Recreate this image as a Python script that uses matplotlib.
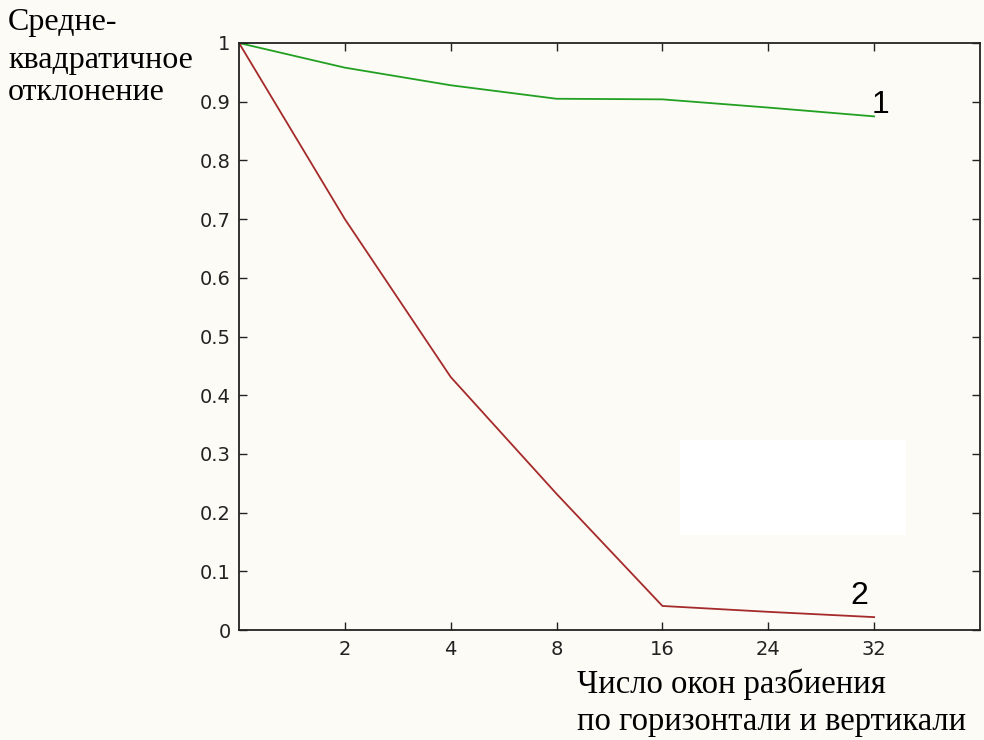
import matplotlib
matplotlib.use("Agg")
import matplotlib.pyplot as plt
import numpy as np

## данные
windows = [1, 2, 4, 8, 16, 24, 32]
tick_labels = ["2", "4", "8", "16", "24", "32"]
curve1 = [1.0, 0.958, 0.928, 0.905, 0.904, 0.890, 0.875]
curve2 = [1.0, 0.700, 0.431, 0.232, 0.041, 0.031, 0.022]

bg = '#fcfbf6'
fig = plt.figure(figsize=(9.84, 7.4), dpi=100, facecolor=bg)
ax = fig.add_axes([0.2429, 0.1486, 0.7530, 0.7933], facecolor=bg)

Xs = np.arange(len(windows))
ax.plot(Xs, curve1, color='#22a022', lw=1.3)
ax.plot(Xs, curve2, color='#a52a2a', lw=1.3)

ax.set_xlim(0, 7)
ax.set_ylim(0, 1)
ax.set_xticks(Xs[1:])
ax.set_xticklabels(tick_labels)
yt = np.round(np.arange(0, 1.01, 0.1), 1)
ax.set_yticks(yt)
ax.set_yticklabels(['0' if v == 0 else ('1' if v == 1 else f'{v:g}') for v in yt])
ax.tick_params(direction='in', length=6, width=1, top=True, right=True,
               labelsize=14, colors='#222222', labelcolor='#222222')
ax.tick_params(axis='x', pad=7)
ax.tick_params(axis='y', pad=6)
for s in ax.spines.values():
    s.set_linewidth(1.3)
    s.set_color('#222222')

## номера кривых
ax.text(5.98, curve1[-1] + 0.006, '1', fontsize=23, family='Liberation Sans',
        ha='left', va='baseline')
ax.text(5.78, curve2[-1] + 0.022, '2', fontsize=23, family='Liberation Sans',
        ha='left', va='baseline')

## белый прямоугольник
fig.patches.append(plt.Rectangle((680 / 984, 1 - 535 / 740), 226 / 984, 95 / 740,
                                 transform=fig.transFigure, facecolor='white',
                                 edgecolor='none', zorder=0.5))

## подписи осей
ylab = ['Средне-', 'квадратичное', 'отклонение']
for line, yb in zip(ylab, [30, 68, 100]):
    fig.text(8 / 984, 1 - yb / 740, line, family='Liberation Serif', fontsize=23,
             ha='left', va='baseline')
xlab = ['Число окон разбиения', 'по горизонтали и вертикали']
for line, yb in zip(xlab, [693, 730]):
    fig.text(577 / 984, 1 - yb / 740, line, family='Liberation Serif', fontsize=23.5,
             ha='left', va='baseline')

fig.savefig('out.png', dpi=100, facecolor=bg)
